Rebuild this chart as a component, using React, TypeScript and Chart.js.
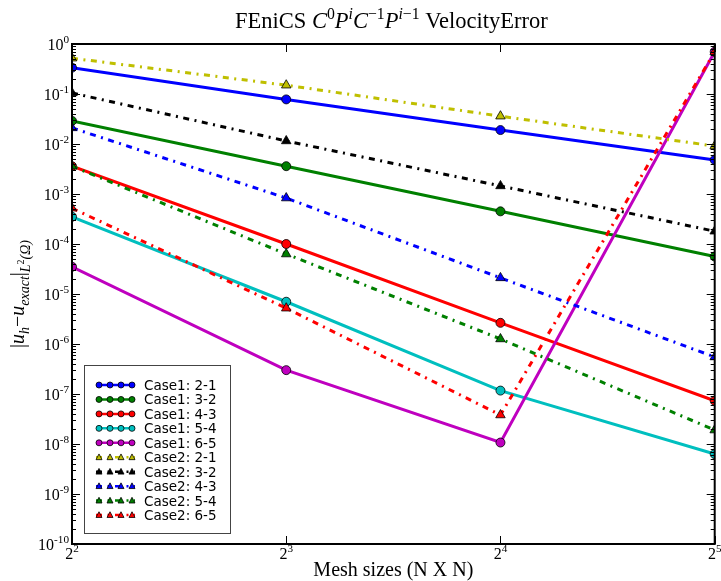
import React, { useEffect, useRef } from 'react';
import { Chart, registerables } from 'chart.js';

Chart.register(...registerables);

// ---- data ----
const meshSizes = [4, 8, 16, 32];
const xTickExps = [2, 3, 4, 5];
const yTickExps = [0, -1, -2, -3, -4, -5, -6, -7, -8, -9, -10];

const case1_21 = [0.336, 0.078, 0.019, 0.0048];
const case1_32 = [0.029, 0.0036, 4.5e-4, 5.6e-5];
const case1_43 = [3.6e-3, 1.0e-4, 2.65e-6, 7.3e-8];
const case1_54 = [3.5e-4, 7.0e-6, 1.17e-7, 6.3e-9];
const case1_65 = [3.5e-5, 3.0e-7, 1.07e-8, 0.7];
const case2_21 = [0.52, 0.15, 0.036, 0.0091];
const case2_32 = [0.105, 0.0115, 0.00145, 1.8e-4];
const case2_43 = [0.021, 8.3e-4, 2.1e-5, 5.5e-7];
const case2_54 = [3.6e-3, 6.3e-5, 1.26e-6, 1.9e-8];
const case2_65 = [5.2e-4, 5.2e-6, 3.8e-8, 0.7];

const seriesLabels = [
  'Case1: 2-1', 'Case1: 3-2', 'Case1: 4-3', 'Case1: 5-4', 'Case1: 6-5',
  'Case2: 2-1', 'Case2: 3-2', 'Case2: 4-3', 'Case2: 5-4', 'Case2: 6-5',
];
const seriesValues = [
  case1_21, case1_32, case1_43, case1_54, case1_65,
  case2_21, case2_32, case2_43, case2_54, case2_65,
];
const seriesColors = [
  '#0000ff', '#008000', '#ff0000', '#00bfbf', '#bf00bf',
  '#bfbf00', '#000000', '#0000ff', '#008000', '#ff0000',
];
const seriesDashed = [false, false, false, false, false, true, true, true, true, true];

const DASH = [6, 5.5, 2, 5.5];
const SERIF = "'Liberation Serif', 'DejaVu Serif', serif";
const SANS = "'DejaVu Sans', sans-serif";

type Run = { t: string; it?: boolean; s?: number; dy?: number };

function drawRuns(
  ctx: CanvasRenderingContext2D,
  runs: Run[],
  x: number,
  y: number,
  size: number,
  align: 'left' | 'center' | 'right',
  family: string
) {
  const fontFor = (r: Run) => `${r.it ? 'italic ' : ''}${size * (r.s ?? 1)}px ${family}`;
  let total = 0;
  const ws = runs.map((r) => {
    ctx.font = fontFor(r);
    const w = ctx.measureText(r.t).width;
    total += w;
    return w;
  });
  let cx = align === 'left' ? x : align === 'center' ? x - total / 2 : x - total;
  ctx.textAlign = 'left';
  ctx.textBaseline = 'alphabetic';
  runs.forEach((r, i) => {
    ctx.font = fontFor(r);
    ctx.fillText(r.t, cx, y + (r.dy ?? 0) * size);
    cx += ws[i];
  });
}

function drawMarker(ctx: CanvasRenderingContext2D, kind: 'circle' | 'triangle', x: number, y: number, r: number, color: string) {
  ctx.beginPath();
  if (kind === 'circle') {
    ctx.arc(x, y, r, 0, Math.PI * 2);
  } else {
    ctx.moveTo(x, y - r * 1.1);
    ctx.lineTo(x + r, y + r * 0.8);
    ctx.lineTo(x - r, y + r * 0.8);
    ctx.closePath();
  }
  ctx.fillStyle = color;
  ctx.fill();
  ctx.lineWidth = 0.8;
  ctx.strokeStyle = '#000';
  ctx.setLineDash([]);
  ctx.stroke();
}

const decorPlugin = {
  id: 'decor',
  afterDraw(chart: any) {
    const { ctx, chartArea: a, scales } = chart;
    const xs = scales.x;
    const ys = scales.y;
    ctx.save();

    // ticks
    ctx.strokeStyle = '#000';
    ctx.lineWidth = 1;
    ctx.setLineDash([]);
    ctx.beginPath();
    yTickExps.forEach((e) => {
      const y = Math.round(ys.getPixelForValue(Math.pow(10, e))) + 0.5;
      ctx.moveTo(a.left, y); ctx.lineTo(a.left + 8, y);
      ctx.moveTo(a.right, y); ctx.lineTo(a.right - 8, y);
    });
    yTickExps.slice(1).forEach((e) => {
      for (let m = 2; m <= 9; m++) {
        const y = Math.round(ys.getPixelForValue(m * Math.pow(10, e))) + 0.5;
        ctx.moveTo(a.left, y); ctx.lineTo(a.left + 4, y);
        ctx.moveTo(a.right, y); ctx.lineTo(a.right - 4, y);
      }
    });
    xTickExps.forEach((e) => {
      const x = Math.round(xs.getPixelForValue(Math.pow(2, e))) + 0.5;
      ctx.moveTo(x, a.bottom); ctx.lineTo(x, a.bottom - 8);
      ctx.moveTo(x, a.top); ctx.lineTo(x, a.top + 8);
    });
    ctx.stroke();

    // frame
    ctx.lineWidth = 2;
    ctx.strokeRect(a.left, a.top, a.right - a.left, a.bottom - a.top);

    // tick labels
    ctx.fillStyle = '#000';
    yTickExps.forEach((e) => {
      const y = ys.getPixelForValue(Math.pow(10, e));
      drawRuns(ctx, [{ t: '10' }, { t: e === 0 ? '0' : '-' + String(-e), s: 0.7, dy: -0.42 }], a.left - 3, y + 5.5, 16, 'right', SERIF);
    });
    xTickExps.forEach((e) => {
      const x = xs.getPixelForValue(Math.pow(2, e));
      drawRuns(ctx, [{ t: '2' }, { t: String(e), s: 0.7, dy: -0.42 }], x, a.bottom + 15, 16, 'center', SERIF);
    });

    // title
    const cxp = (a.left + a.right) / 2;
    drawRuns(ctx, [
      { t: 'FEniCS ' },
      { t: 'C', it: true }, { t: '0', s: 0.7, dy: -0.42 },
      { t: 'P', it: true }, { t: 'i', it: true, s: 0.7, dy: -0.42 },
      { t: 'C', it: true }, { t: '\u22121', s: 0.7, dy: -0.42 },
      { t: 'P', it: true }, { t: 'i', it: true, s: 0.7, dy: -0.42 }, { t: '\u22121', s: 0.7, dy: -0.42 },
      { t: ' VelocityError' },
    ], cxp - 2, 28, 22.5, 'center', SERIF);

    // x label
    drawRuns(ctx, [{ t: 'Mesh sizes (N X N)' }], cxp, 576, 20, 'center', SERIF);

    // y label
    ctx.save();
    ctx.translate(24, (a.top + a.bottom) / 2);
    ctx.rotate(-Math.PI / 2);
    drawRuns(ctx, [
      { t: '|' }, { t: 'u', it: true }, { t: 'h', it: true, s: 0.7, dy: 0.25 },
      { t: '\u2212' }, { t: 'u', it: true }, { t: 'exact', it: true, s: 0.7, dy: 0.25 },
      { t: '|' }, { t: 'L', it: true, s: 0.7, dy: 0.3 }, { t: '2', s: 0.5, dy: 0.02 },
      { t: '(\u03A9)', it: true, s: 0.7, dy: 0.3 },
    ], 0, 0, 20, 'center', SERIF);
    ctx.restore();

    // legend
    const lx = 84.5, ly = 365.5, lw = 146, lh = 168;
    ctx.fillStyle = '#fff';
    ctx.fillRect(lx, ly, lw, lh);
    ctx.strokeStyle = '#444';
    ctx.lineWidth = 1;
    ctx.strokeRect(lx, ly, lw, lh);
    seriesLabels.forEach((lab, i) => {
      const y = 385 + i * 14.45;
      const col = seriesColors[i];
      ctx.strokeStyle = col;
      ctx.lineWidth = 2.5;
      ctx.setLineDash(seriesDashed[i] ? DASH : []);
      ctx.beginPath();
      ctx.moveTo(96, y); ctx.lineTo(135, y);
      ctx.stroke();
      ctx.setLineDash([]);
      [99, 110, 121, 132].forEach((mx) => drawMarker(ctx, seriesDashed[i] ? 'triangle' : 'circle', mx, y, 3, col));
      ctx.fillStyle = '#000';
      ctx.font = `13.5px ${SANS}`;
      ctx.textAlign = 'left';
      ctx.textBaseline = 'alphabetic';
      ctx.fillText(lab, 144, y + 5);
    });

    ctx.restore();
  },
};

export default function App() {
  const ref = useRef<HTMLCanvasElement>(null);
  useEffect(() => {
    if (!ref.current) return;
    const chart = new Chart(ref.current, {
      type: 'line',
      data: {
        datasets: seriesLabels.map((label, i) => ({
          label,
          data: meshSizes.map((x, j) => ({ x, y: seriesValues[i][j] })),
          borderColor: seriesColors[i],
          backgroundColor: seriesColors[i],
          borderWidth: 3,
          borderDash: seriesDashed[i] ? DASH : [],
          pointStyle: seriesDashed[i] ? 'triangle' : 'circle',
          pointRadius: seriesDashed[i] ? 5.5 : 4.5,
          pointBorderColor: '#000',
          pointBorderWidth: 0.8,
          pointBackgroundColor: seriesColors[i],
          tension: 0,
          fill: false,
          clip: 0,
          order: 100 - i,
        })),
      },
      options: {
        responsive: false,
        animation: false,
        devicePixelRatio: 1,
        layout: { padding: { left: 72, top: 44, right: 3, bottom: 37 } },
        plugins: { legend: { display: false }, tooltip: { enabled: false }, title: { display: false } },
        scales: {
          x: { type: 'logarithmic', min: 4, max: 32, display: false },
          y: { type: 'logarithmic', min: 1e-10, max: 1, display: false },
        },
      },
      plugins: [decorPlugin],
    });
    return () => chart.destroy();
  }, []);
  return (
    <div style={{ position: 'absolute', left: 0, top: 0, background: '#fff' }}>
      <canvas ref={ref} width={721} height={581} style={{ display: 'block' }} />
    </div>
  );
}
